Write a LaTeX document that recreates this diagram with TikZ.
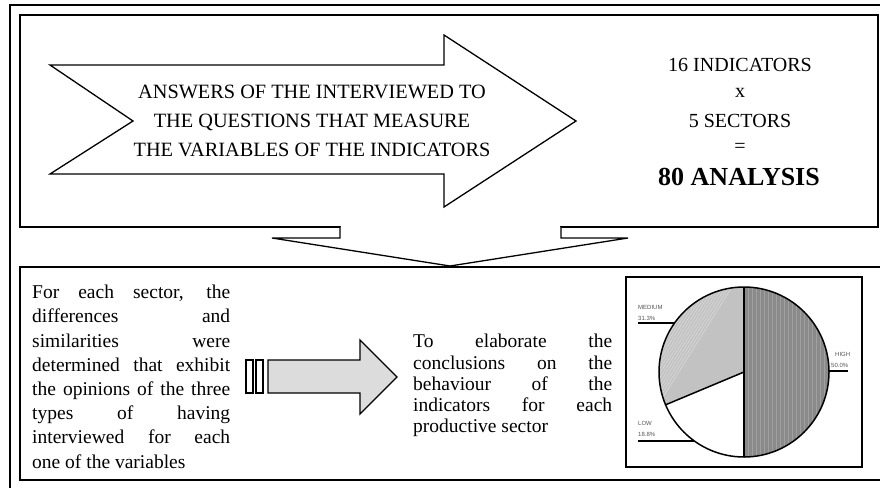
\documentclass[tikz,border=0pt]{standalone}
\usepackage{fontspec}
\setmainfont{Liberation Serif}
\setsansfont{Liberation Sans}
\newcommand{\jline}[1]{\makebox[198pt][s]{#1}}
\definecolor{highgray}{HTML}{8A8A8A}
\definecolor{highstripe}{HTML}{A0A0A0}
\definecolor{medgray}{HTML}{C2C2C2}
\definecolor{medhatch}{HTML}{DADADA}
\definecolor{arrowgray}{HTML}{DCDCDC}
\definecolor{labelgray}{HTML}{555555}
\begin{document}
\begin{tikzpicture}[x=1pt,y=-1pt,line join=miter,
  frame/.style={draw=black,line width=2pt},
  shapeline/.style={draw=black,line width=1.3pt},
  maintext/.style={font=\fontsize{20.3}{29}\selectfont,inner sep=0pt,align=center},
  sidetext/.style={font=\fontsize{20}{28}\selectfont,inner sep=0pt},
  paratext/.style={inner sep=0pt,anchor=north west,align=left},
  pielabel/.style={font=\sffamily\fontsize{6}{7}\selectfont,text=labelgray,inner sep=0pt,anchor=west},
  leader/.style={draw=black,line width=1.5pt}]
\useasboundingbox (0,0) rectangle (880,487);
\fill[white] (0,0) rectangle (880,487);
\begin{scope}
\clip (0,0) rectangle (880,487);
% outer frame
\draw[frame] (10,5) rectangle (895,500);
% top box
\draw[frame] (20,15) rectangle (878,227);
% bottom box
\draw[frame] (895,267) -- (20,267) -- (20,480) -- (895,480);
\end{scope}
% big right arrow
\draw[shapeline,fill=white] (50,65) -- (444,65) -- (444,35) -- (576,121) -- (444,207) -- (444,174) -- (50,174) -- (133,121) -- cycle;
\node[maintext] (answers) at (312,121) {ANSWERS OF THE INTERVIEWED TO\\THE QUESTIONS THAT MEASURE\\THE VARIABLES OF THE INDICATORS};
% right text
\node[sidetext] (r1) at (740,65) {16 INDICATORS};
\node[sidetext] (r2) at (740,93) {x};
\node[sidetext] (r3) at (740,121) {5 SECTORS};
\node[sidetext] (r4) at (740,148) {=};
\node[sidetext,font=\bfseries\fontsize{26}{28}\selectfont] (r5) at (739,177) {80 ANALYSIS};
% down arrow
\fill[white] (341,224) rectangle (560,230);
\draw[shapeline,fill=white] (340,227) -- (340,238) -- (272,238) -- (450,266) -- (628,238) -- (561,238) -- (561,227);
% left paragraph
\node[paratext,font=\fontsize{19.5}{24.2}\selectfont] (left) at (32,285) {\jline{For each sector, the}\\
\jline{differences and}\\
\jline{similarities were}\\
\jline{determined that exhibit}\\
\jline{the opinions of the three}\\
\jline{types of having}\\
\jline{interviewed for each}\\
one of the variables};
% small arrow
\draw[shapeline,fill=white] (246,360) rectangle (253,393);
\draw[shapeline,fill=white] (256,360) rectangle (263,393);
\draw[shapeline,fill=arrowgray] (268,360) -- (360,360) -- (360,340) -- (397,377) -- (360,414) -- (360,393) -- (268,393) -- cycle;
% right paragraph
\node[paratext,font=\fontsize{19.5}{21.3}\selectfont] (right) at (413,334) {\makebox[199pt][s]{To elaborate the}\\
\makebox[199pt][s]{conclusions on the}\\
\makebox[199pt][s]{behaviour of the}\\
\makebox[199pt][s]{indicators for each}\\
productive sector};
% pie box
\draw[frame] (626,277) rectangle (862,467);
\coordinate (c) at (744,372);
\fill[highgray] (c) -- (744,287) arc[start angle=-90,end angle=90,radius=85] -- cycle;
\begin{scope}
\clip (c) -- (744,287) arc[start angle=-90,end angle=90,radius=85] -- cycle;
\foreach \x in {748,752,...,830} {\draw[highstripe,line width=0.6pt] (\x,280) -- (\x,465);}
\end{scope}
\fill[medgray] (c) -- (744,287) arc[start angle=-90,end angle=-202.7,radius=85] -- cycle;
\begin{scope}
\clip (c) -- (744,287) arc[start angle=-90,end angle=-202.7,radius=85] -- cycle;
\foreach \d in {0,3,...,36} {\draw[medhatch,line width=0.6pt] (655-\d,410) -- (735-\d,282);}
\end{scope}
\fill[white] (c) -- (665.6,404.8) arc[start angle=-202.7,end angle=-270,radius=85] -- cycle;
\draw[line width=1.5pt] (c) circle[radius=85];
\draw[line width=1.5pt] (744,287) -- (c) -- (744,457);
\draw[line width=1.5pt] (c) -- (665.6,404.8);
% pie labels
\node[pielabel] (medl) at (638,307) {MEDIUM};
\node[pielabel] (medp) at (638,318) {31.3\%};
\coordinate (medc) at (674.5,323);
\draw[leader] (638,323) -- (medc);
\node[pielabel] (highl) at (835,354) {HIGH};
\node[pielabel] (highp) at (831,365) {50.0\%};
\coordinate (highc) at (829,371);
\draw[leader] (highc) -- (848,371);
\node[pielabel] (lowl) at (638,423) {LOW};
\node[pielabel] (lowp) at (638,434) {18.8\%};
\coordinate (lowc) at (694.4,441);
\draw[leader] (638,441) -- (lowc);
\end{tikzpicture}
\end{document}
